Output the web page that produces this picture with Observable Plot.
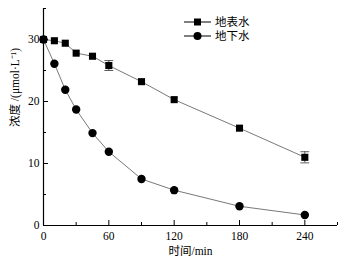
<!DOCTYPE html>
<html><head><meta charset="utf-8">
<script src="https://cdn.jsdelivr.net/npm/d3@7"></script>
<script src="https://cdn.jsdelivr.net/npm/@observablehq/plot@0.6"></script>
<style>
html,body{margin:0;padding:0;background:#fff;}
#wrap{position:relative;width:363px;height:266px;}
#legend{position:absolute;left:184px;top:15px;font-family:"Liberation Serif","Noto Sans CJK SC",serif;font-size:11.5px;color:#000;line-height:14px;}
#legend .row{display:flex;align-items:center;height:14px;}
#legend svg{margin-right:4px;}
</style>
</head><body>
<div id="wrap"><div id="legend"></div></div>
<script>
const times = [0, 10, 20, 30, 45, 60, 90, 120, 180, 240];
const surface = [30.0, 29.8, 29.4, 27.8, 27.3, 25.8, 23.2, 20.3, 15.7, 11.0];
const surfaceErr = [0.2, 0.2, 0.2, 0.3, 0.2, 0.8, 0.2, 0.2, 0.2, 0.9];
const ground = [30.0, 26.1, 21.9, 18.7, 14.9, 11.9, 7.5, 5.7, 3.1, 1.7];
const groundErr = [0.2, 0.2, 0.2, 0.2, 0.2, 0.2, 0.2, 0.2, 0.2, 0.2];
const seriesNames = ["地表水", "地下水"];
const xMajor = [0, 60, 120, 180, 240];
const xMinor = [30, 90, 150, 210, 270];
const yMajor = [0, 10, 20, 30];
const yMinor = [5, 15, 25, 35];
const xLabel = "时间/min";
const yLabel = "浓度 /(μmol·L⁻¹)";

const font = '"Liberation Serif","Noto Sans CJK SC",serif';
const sData = times.map((t, i) => ({t, v: surface[i], e: surfaceErr[i]}));
const gData = times.map((t, i) => ({t, v: ground[i], e: groundErr[i]}));
const errData = sData.filter(d => d.e >= 0.5);
const capData = errData.flatMap(d => [{t: d.t, y: d.v - d.e}, {t: d.t, y: d.v + d.e}]);
const capSymbol = {draw(ctx, size) { const w = Math.sqrt(size); ctx.moveTo(-w, 0); ctx.lineTo(w, 0); }};

const chart = Plot.plot({
  width: 363, height: 266,
  marginLeft: 43, marginRight: 26, marginTop: 8, marginBottom: 41,
  style: {fontFamily: font, fontSize: "11.5px", color: "#000", background: "#fff"},
  x: {type: "linear", domain: [0, 270]},
  y: {type: "linear", domain: [0, 35]},
  marks: [
    Plot.axisX({ticks: xMajor, tickSize: -5, tickPadding: 11, tickFormat: d => String(d), label: null, stroke: "#000"}),
    Plot.axisX({ticks: xMinor, tickSize: -3, tickFormat: () => "", label: null, stroke: "#000"}),
    Plot.axisY({ticks: yMajor, tickSize: -5, tickPadding: 9, tickFormat: d => String(d), label: null, stroke: "#000"}),
    Plot.axisY({ticks: yMinor, tickSize: -3, tickFormat: () => "", label: null, stroke: "#000"}),
    Plot.ruleX([0], {stroke: "#000", strokeWidth: 1.2}),
    Plot.ruleY([0], {stroke: "#000", strokeWidth: 1.2}),
    Plot.text([xLabel], {frameAnchor: "bottom", dy: 29, fontSize: 11.5, fill: "#000"}),
    Plot.text([yLabel], {frameAnchor: "left", rotate: -90, dx: -28, dy: 10, fontSize: 11.5, fill: "#000"}),
    Plot.line(sData, {x: "t", y: "v", stroke: "#555", strokeWidth: 0.8}),
    Plot.line(gData, {x: "t", y: "v", stroke: "#555", strokeWidth: 0.8}),
    Plot.ruleX(errData, {x: "t", y1: d => d.v - d.e, y2: d => d.v + d.e, stroke: "#333", strokeWidth: 0.8}),
    Plot.dot(capData, {x: "t", y: "y", symbol: capSymbol, r: 2.5, fill: "none", stroke: "#333", strokeWidth: 0.8}),
    Plot.dot(sData, {x: "t", y: "v", symbol: "square", r: 4, fill: "#000", stroke: "none"}),
    Plot.dot(gData, {x: "t", y: "v", symbol: "circle", r: 4.2, fill: "#000", stroke: "none"})
  ]
});
document.getElementById("wrap").prepend(chart);

const legend = document.getElementById("legend");
seriesNames.forEach((name, i) => {
  const row = document.createElement("div");
  row.className = "row";
  const marker = i === 0
    ? '<rect x="10" y="3.5" width="7" height="7" fill="#000"/>'
    : '<circle cx="13.5" cy="7" r="4" fill="#000"/>';
  row.innerHTML = `<svg width="27" height="14"><line x1="0" x2="27" y1="7" y2="7" stroke="#000" stroke-width="1"/>${marker}</svg><span>${name}</span>`;
  legend.appendChild(row);
});
</script>
</body></html>
